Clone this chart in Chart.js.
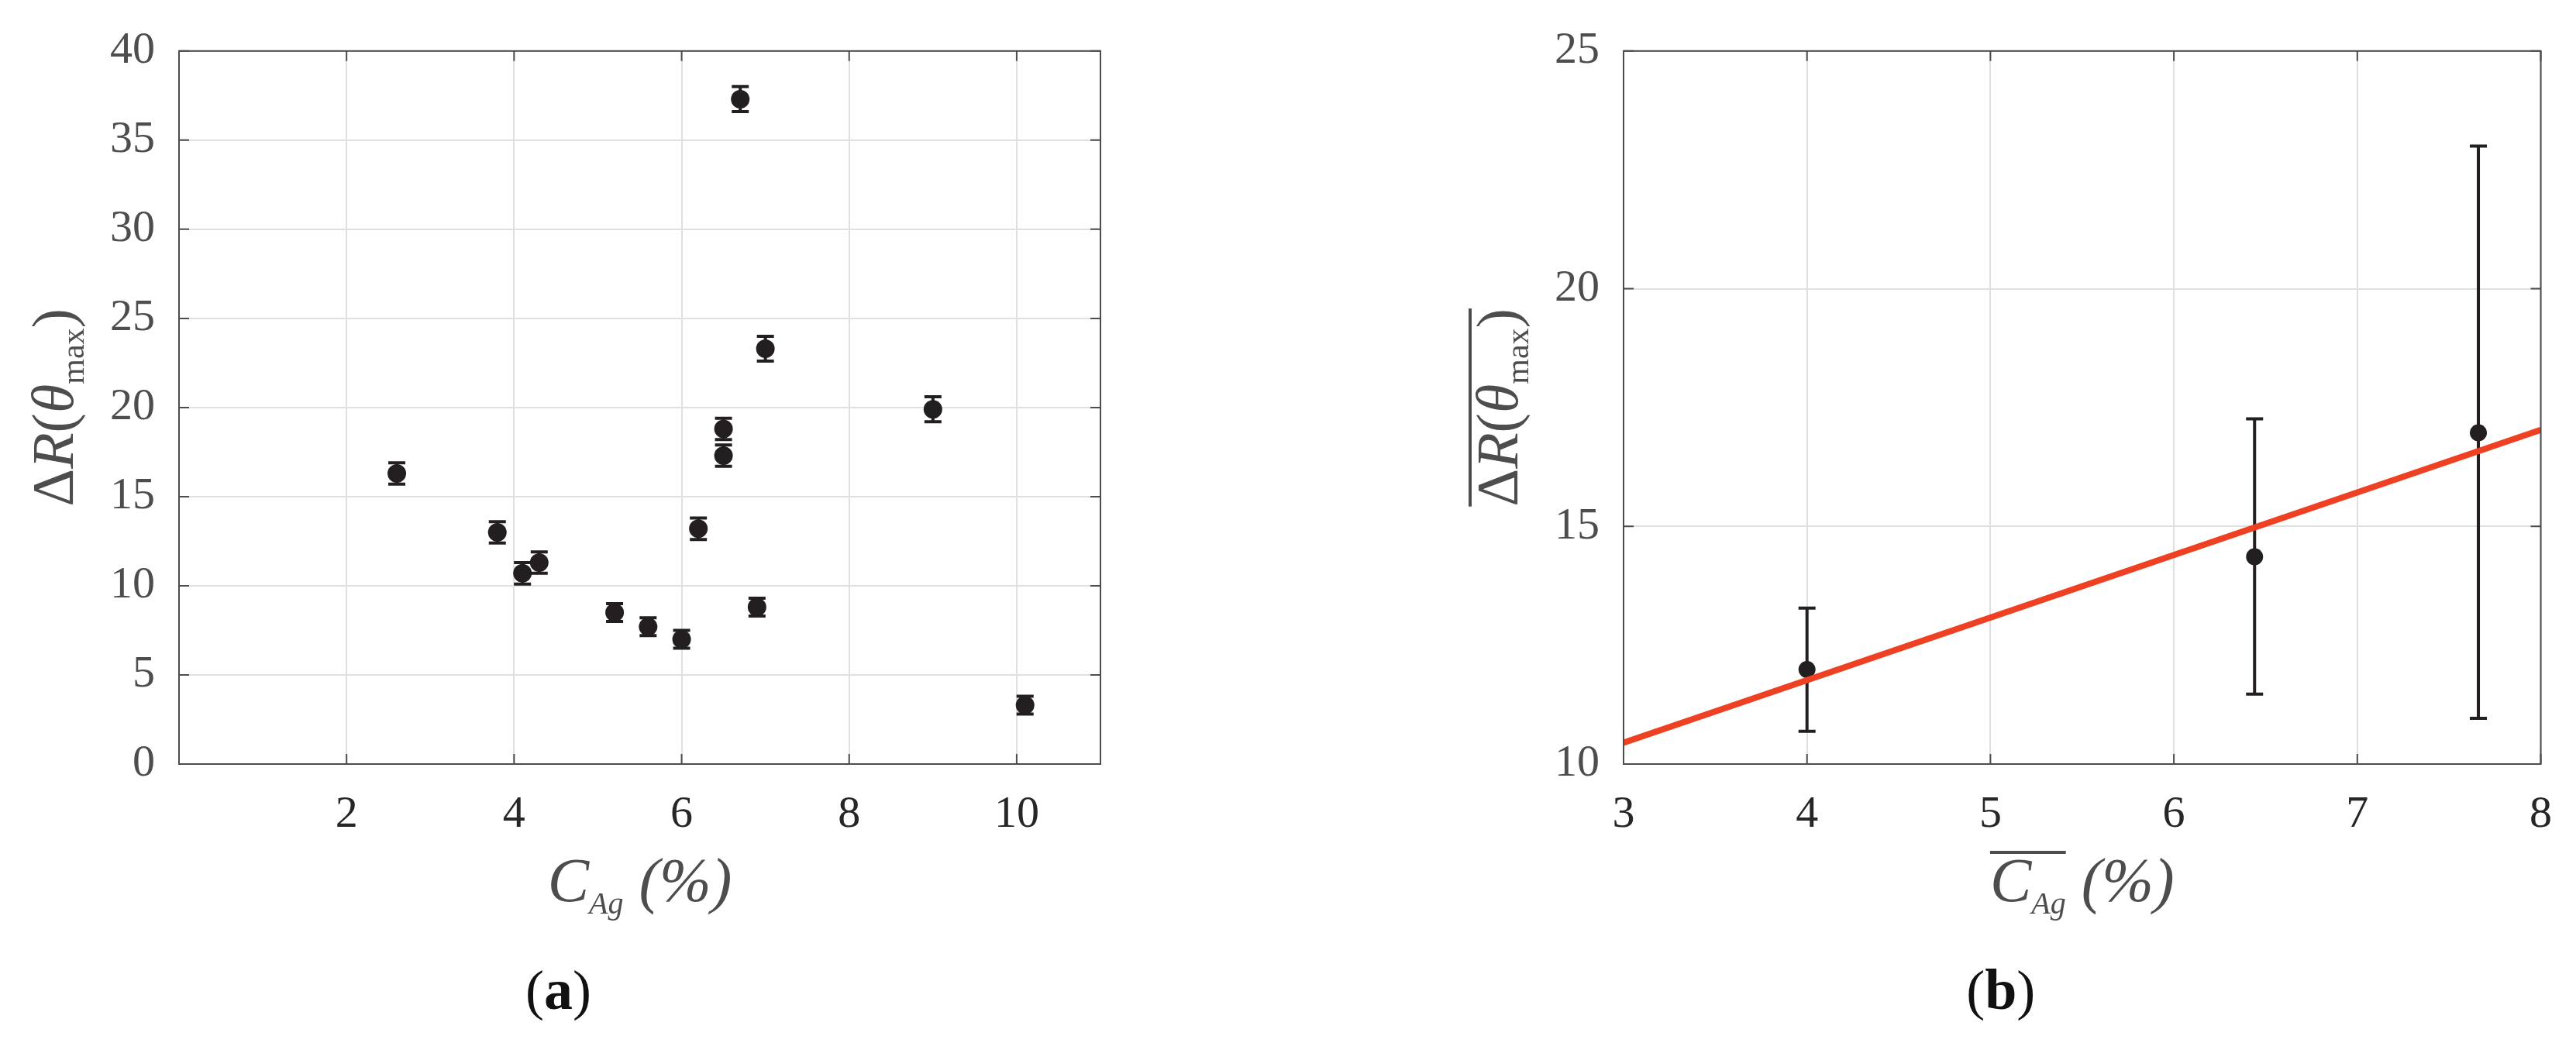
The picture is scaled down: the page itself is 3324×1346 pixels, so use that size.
<!DOCTYPE html>
<html>
<head>
<meta charset="utf-8">
<script src="https://cdn.jsdelivr.net/npm/chart.js@4.4.0/dist/chart.umd.min.js"></script>
<style>
  html, body { margin: 0; padding: 0; background: #fff; }
  #wrap { position: relative; width: 3324px; height: 1346px; }
  .panel { position: absolute; top: 0; width: 1662px; height: 1346px; }
</style>
</head>
<body>
<div id="wrap">
  <div class="panel" style="left:0"><canvas id="chartA"></canvas></div>
  <div class="panel" style="left:1662px"><canvas id="chartB"></canvas></div>
</div>
<script>
// (a) individual samples
const concA  = [2.6, 3.8, 4.1, 4.3, 5.2, 5.6, 6.0, 6.2, 6.5, 6.5, 6.7, 6.9, 7.0, 9.0, 10.1];
const deltaA = [16.3, 13.0, 10.7, 11.3, 8.5, 7.7, 7.0, 13.2, 17.3, 18.8, 37.3, 8.8, 23.3, 19.9, 3.3];
const errA   = [0.6, 0.6, 0.6, 0.6, 0.5, 0.5, 0.5, 0.6, 0.6, 0.6, 0.7, 0.5, 0.7, 0.7, 0.5];
const xTicksA = [2, 4, 6, 8, 10];
const yTicksA = [0, 5, 10, 15, 20, 25, 30, 35, 40];

// (b) averages with spread, plus linear fit
const concB  = [4.0, 6.44, 7.66];
const deltaB = [11.99, 14.36, 16.97];
const lowB   = [10.69, 11.47, 10.96];
const highB  = [13.28, 17.26, 23.0];
const fitX   = [3, 8];
const fitY   = [10.45, 17.03];
const xTicksB = [3, 4, 5, 6, 7, 8];
const yTicksB = [10, 15, 20, 25];

const SERIF = "'Liberation Serif', 'DejaVu Serif', serif";
const AXIS_GRAY = '#4d4d4d';
const MARK = '#231f20';

// draws a row of text pieces centred on (cx, y)
function drawRuns(ctx, runs, cx, y) {
    let total = 0;
    runs.forEach(r => { ctx.font = r.font; r.w = ctx.measureText(r.text).width; total += r.w; });
    let x = cx - total / 2;
    runs.forEach(r => {
        ctx.font = r.font;
        ctx.fillText(r.text, x, y + (r.dy || 0));
        x += r.w;
    });
    return { left: cx - total / 2, width: total };
}

const framePlugin = {
    id: 'frame',
    beforeDatasetsDraw(chart, args, opts) {
        const { ctx } = chart;
        const xs = chart.scales.x, ys = chart.scales.y;
        ctx.save();
        ctx.strokeStyle = MARK;
        ctx.lineWidth = 4;
        opts.xs.forEach((v, i) => {
            const px = xs.getPixelForValue(v);
            const top = ys.getPixelForValue(opts.high[i]);
            const bot = ys.getPixelForValue(opts.low[i]);
            ctx.beginPath();
            ctx.moveTo(px, top); ctx.lineTo(px, bot);
            ctx.moveTo(px - 11, top); ctx.lineTo(px + 11, top);
            ctx.moveTo(px - 11, bot); ctx.lineTo(px + 11, bot);
            ctx.stroke();
        });
        ctx.restore();
    },
    afterDraw(chart, args, opts) {
        const { ctx, chartArea: a } = chart;
        const xs = chart.scales.x, ys = chart.scales.y;
        ctx.save();
        // box and inward ticks
        ctx.strokeStyle = AXIS_GRAY;
        ctx.lineWidth = 2;
        ctx.strokeRect(a.left, a.top, a.right - a.left, a.bottom - a.top);
        ctx.beginPath();
        xs.ticks.forEach(t => {
            const px = xs.getPixelForValue(t.value);
            ctx.moveTo(px, a.bottom); ctx.lineTo(px, a.bottom - 13);
            ctx.moveTo(px, a.top); ctx.lineTo(px, a.top + 13);
        });
        ys.ticks.forEach(t => {
            const py = ys.getPixelForValue(t.value);
            ctx.moveTo(a.left, py); ctx.lineTo(a.left + 13, py);
            ctx.moveTo(a.right, py); ctx.lineTo(a.right - 13, py);
        });
        ctx.stroke();

        const cx = (a.left + a.right) / 2;
        ctx.fillStyle = AXIS_GRAY;
        ctx.textBaseline = 'alphabetic';
        ctx.textAlign = 'left';

        // x title
        const big = 'italic 80px ' + SERIF, small = 'italic 40px ' + SERIF;
        const xr = drawRuns(ctx, [
            { text: 'C', font: big },
            { text: 'Ag', font: small, dy: 16 },
            { text: ' (%)', font: big }
        ], cx, a.bottom + 177);
        if (opts.bar) {
            ctx.font = big;
            const cw = ctx.measureText('C').width;
            ctx.font = small;
            const sw = ctx.measureText('Ag').width;
            ctx.fillRect(xr.left, a.bottom + 112, cw + sw, 4);
        }

        // y title, rotated
        ctx.save();
        ctx.translate(a.left - 164, (a.top + a.bottom) / 2);
        ctx.rotate(-Math.PI / 2);
        const up = '76px ' + SERIF, it = 'italic 76px ' + SERIF;
        const yr = drawRuns(ctx, [
            { text: 'Δ', font: up },
            { text: 'R', font: it },
            { text: '(', font: up },
            { text: 'θ', font: it },
            { text: 'max', font: '42px ' + SERIF, dy: 14 },
            { text: ')', font: up }
        ], 0, 27);
        if (opts.bar) {
            ctx.fillRect(yr.left, -36, yr.width, 4);
        }
        ctx.restore();

        // panel label
        ctx.fillStyle = '#111';
        drawRuns(ctx, [
            { text: '(', font: '72px ' + SERIF },
            { text: opts.label, font: 'bold 74px ' + SERIF },
            { text: ')', font: '72px ' + SERIF }
        ], cx - 105, 1302);
        ctx.restore();
    }
};

function axis(min, max, ticks, size, color, pad, fit) {
    return {
        type: 'linear',
        min: min,
        max: max,
        afterBuildTicks: s => { s.ticks = ticks.map(v => ({ value: v })); },
        afterFit: fit,
        ticks: {
            color: color,
            padding: pad,
            font: { family: SERIF, size: size }
        },
        grid: { color: '#e0e0e0', lineWidth: 2, drawTicks: false },
        border: { display: false }
    };
}

Chart.defaults.animation = false;

new Chart(document.getElementById('chartA'), {
    type: 'scatter',
    data: {
        datasets: [{
            data: concA.map((x, i) => ({ x: x, y: deltaA[i] })),
            pointRadius: 12,
            pointHoverRadius: 12,
            backgroundColor: MARK,
            borderWidth: 0
        }]
    },
    options: {
        responsive: true,
        maintainAspectRatio: false,
        layout: { padding: { left: 0, top: 47, right: 242, bottom: 240 } },
        scales: {
            x: axis(0, 11, xTicksA, 58, '#262626', 31, s => { s.height = 120; }),
            y: axis(0, 40, yTicksA, 58, AXIS_GRAY, 31, s => { s.width = 231; })
        },
        plugins: {
            legend: { display: false },
            tooltip: { enabled: false },
            frame: { xs: concA, low: deltaA.map((v, i) => v - errA[i]), high: deltaA.map((v, i) => v + errA[i]), label: 'a', bar: false }
        }
    },
    plugins: [framePlugin]
});

new Chart(document.getElementById('chartB'), {
    type: 'scatter',
    data: {
        datasets: [{
            type: 'line',
            data: fitX.map((x, i) => ({ x: x, y: fitY[i] })),
            borderColor: '#ee4123',
            borderWidth: 8,
            pointRadius: 0,
            fill: false
        }, {
            data: concB.map((x, i) => ({ x: x, y: deltaB[i] })),
            pointRadius: 11,
            pointHoverRadius: 11,
            backgroundColor: MARK,
            borderWidth: 0
        }]
    },
    options: {
        responsive: true,
        maintainAspectRatio: false,
        layout: { padding: { left: 0, top: 47, right: 40, bottom: 240 } },
        scales: {
            x: axis(3, 8, xTicksB, 58, '#262626', 31, s => { s.height = 120; }),
            y: axis(10, 25, yTicksB, 58, AXIS_GRAY, 31, s => { s.width = 433; })
        },
        plugins: {
            legend: { display: false },
            tooltip: { enabled: false },
            frame: { xs: concB, low: lowB, high: highB, label: 'b', bar: true }
        }
    },
    plugins: [framePlugin]
});
</script>
</body>
</html>
